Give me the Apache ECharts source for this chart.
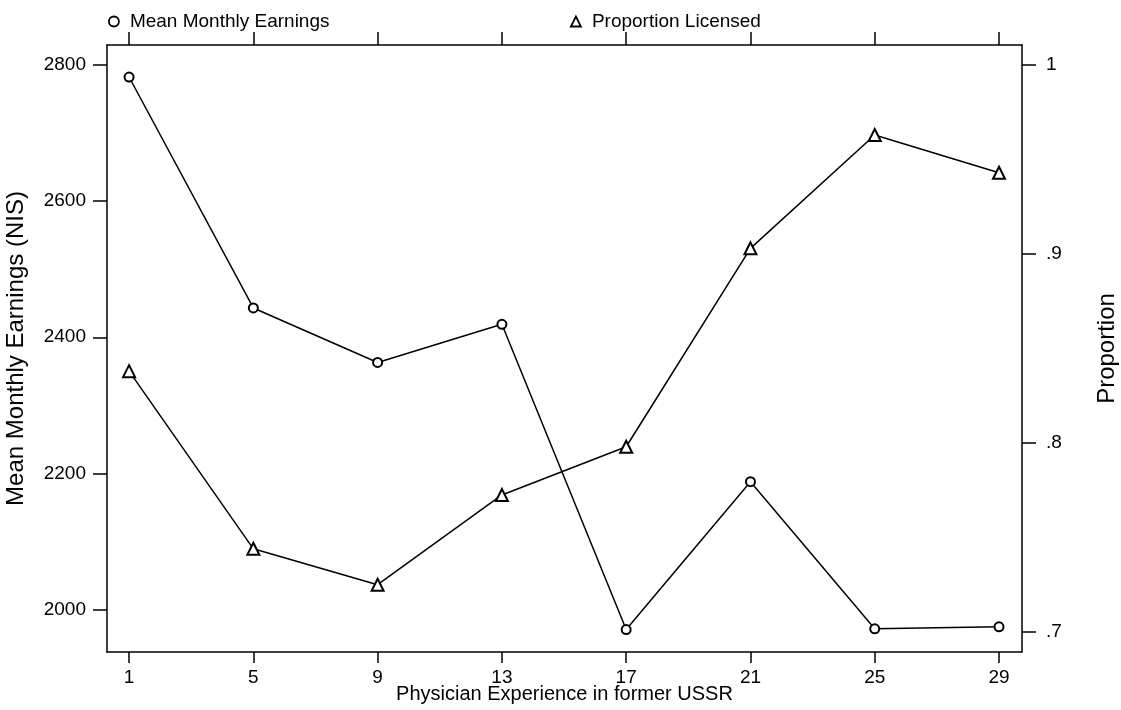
<!DOCTYPE html>
<html>
<head>
<meta charset="utf-8">
<script src="https://cdn.jsdelivr.net/npm/echarts@6/dist/echarts.min.js"></script>
<style>
  html, body { margin: 0; padding: 0; background: #fff; }
  #chart { width: 1121px; height: 710px; }
</style>
</head>
<body>
<div id="chart"></div>
<script>
// Years of physician experience in the former USSR
const experience = [1, 5, 9, 13, 17, 21, 25, 29];
// Mean monthly earnings in Israel (NIS)
const earnings = [2782, 2443, 2363, 2419, 1971, 2188, 1972, 1975];
// Proportion holding a medical licence
const licensed = [0.838, 0.744, 0.725, 0.7725, 0.798, 0.903, 0.963, 0.943];

// Tick values and labels
const xTicks = [1, 5, 9, 13, 17, 21, 25, 29];
const earningsTicks = [2000, 2200, 2400, 2600, 2800];
const proportionTicks = [0.7, 0.8, 0.9, 1];
const proportionTickLabels = ['.7', '.8', '.9', '1'];

const FONT = '"Liberation Sans", Arial, sans-serif';
const INK = '#000';

const chart = echarts.init(document.getElementById('chart'), null, { renderer: 'canvas' });

const axisLineStyle = { show: true, lineStyle: { color: INK, width: 1.5 } };

const legendBase = {
  orient: 'horizontal',
  top: 7,
  itemWidth: 10,
  itemHeight: 10,
  selectedMode: false,
  textStyle: { fontFamily: FONT, fontSize: 19, color: INK, padding: [0, 0, 0, 6] },
  itemStyle: { color: '#fff', borderColor: INK, borderWidth: 1.8 }
};

chart.setOption({
  animation: false,
  backgroundColor: '#fff',
  textStyle: { fontFamily: FONT },
  grid: { left: 107, right: 99, top: 45, bottom: 58, containLabel: false, outerBoundsMode: 'none' },
  legend: [
    Object.assign({}, legendBase, {
      left: 103,
      data: [{ name: 'Mean Monthly Earnings', icon: 'circle' }]
    }),
    Object.assign({}, legendBase, {
      left: 565,
      data: [{ name: 'Proportion Licensed', icon: 'triangle' }]
    })
  ],
  xAxis: [
    {
      type: 'value',
      position: 'bottom',
      min: 0.29,
      max: 29.74,
      name: 'Physician Experience in former USSR',
      nameLocation: 'middle',
      nameGap: 32,
      nameMoveOverlap: false,
      nameTextStyle: { fontFamily: FONT, fontSize: 20, color: INK },
      axisLine: axisLineStyle,
      axisTick: { show: true, customValues: xTicks, length: 11, lineStyle: { color: INK, width: 1.5 } },
      axisLabel: { customValues: xTicks, margin: 16, fontFamily: FONT, fontSize: 19, color: INK, formatter: v => String(v) },
      splitLine: { show: false }
    },
    {
      type: 'value',
      position: 'top',
      min: 0.29,
      max: 29.74,
      axisLine: axisLineStyle,
      axisTick: { show: true, customValues: xTicks, length: 13, lineStyle: { color: INK, width: 1.5 } },
      axisLabel: { show: false },
      splitLine: { show: false }
    }
  ],
  yAxis: [
    {
      type: 'value',
      position: 'left',
      min: 1938,
      max: 2829,
      name: 'Mean Monthly Earnings (NIS)',
      nameLocation: 'middle',
      nameGap: 79,
      nameMoveOverlap: false,
      nameTextStyle: { fontFamily: FONT, fontSize: 24, color: INK },
      axisLine: axisLineStyle,
      axisTick: { show: true, customValues: earningsTicks, length: 14, lineStyle: { color: INK, width: 1.5 } },
      axisLabel: { customValues: earningsTicks, margin: 21, fontFamily: FONT, fontSize: 19, color: INK, formatter: v => String(v) },
      splitLine: { show: false }
    },
    {
      type: 'value',
      position: 'right',
      min: 0.6894,
      max: 1.0106,
      name: 'Proportion',
      nameLocation: 'middle',
      nameGap: 73,
      nameMoveOverlap: false,
      nameTextStyle: { fontFamily: FONT, fontSize: 24, color: INK },
      axisLine: axisLineStyle,
      axisTick: { show: true, customValues: proportionTicks, length: 14, lineStyle: { color: INK, width: 1.5 } },
      axisLabel: {
        customValues: proportionTicks,
        margin: 24,
        fontFamily: FONT,
        fontSize: 19,
        color: INK,
        formatter: function (v) {
          const i = proportionTicks.findIndex(t => Math.abs(t - v) < 1e-9);
          return i >= 0 ? proportionTickLabels[i] : '';
        }
      },
      splitLine: { show: false }
    }
  ],
  series: [
    {
      name: 'Mean Monthly Earnings',
      type: 'line',
      xAxisIndex: 0,
      yAxisIndex: 0,
      data: experience.map((x, i) => [x, earnings[i]]),
      symbol: 'emptyCircle',
      symbolSize: 9,
      showAllSymbol: true,
      itemStyle: { color: INK, borderColor: INK, borderWidth: 2.2 },
      lineStyle: { color: INK, width: 1.5 },
      emphasis: { disabled: true }
    },
    {
      name: 'Proportion Licensed',
      type: 'line',
      xAxisIndex: 0,
      yAxisIndex: 1,
      data: experience.map((x, i) => [x, licensed[i]]),
      symbol: 'emptyTriangle',
      symbolSize: 12,
      showAllSymbol: true,
      itemStyle: { color: INK, borderColor: INK, borderWidth: 2.2 },
      lineStyle: { color: INK, width: 1.5 },
      emphasis: { disabled: true }
    }
  ]
});
</script>
</body>
</html>
